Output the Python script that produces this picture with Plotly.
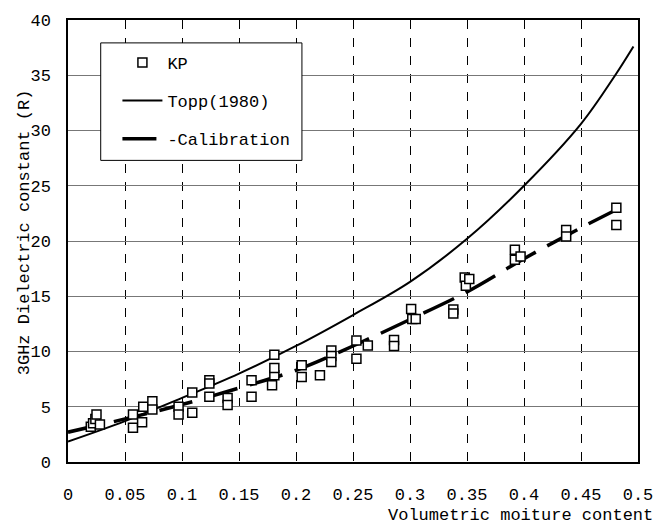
import plotly.graph_objects as go

# ---- data ----
kp_x = [0.020, 0.022, 0.024, 0.025, 0.028,
        0.057, 0.057, 0.065, 0.066, 0.074, 0.074,
        0.097, 0.097, 0.109, 0.109,
        0.124, 0.124, 0.124, 0.140, 0.140,
        0.161, 0.161, 0.179, 0.181, 0.181, 0.181,
        0.205, 0.205, 0.221, 0.231, 0.231, 0.231,
        0.253, 0.253, 0.263, 0.286, 0.286,
        0.301, 0.302, 0.305, 0.338, 0.338,
        0.348, 0.349, 0.352, 0.392, 0.392, 0.397,
        0.437, 0.437, 0.481, 0.481]
kp_y = [3.2, 3.5, 3.9, 4.3, 3.4,
        4.3, 3.1, 3.6, 5.0, 5.5, 4.75,
        5.0, 4.3, 4.45, 6.3,
        7.4, 7.1, 5.9, 5.8, 5.15,
        7.4, 5.9, 6.95, 7.85, 8.5, 9.7,
        8.75, 7.7, 7.85, 10.1, 9.6, 9.05,
        11.0, 9.35, 10.55, 11.05, 10.5,
        13.85, 12.95, 12.95, 13.8, 13.45,
        16.7, 15.95, 16.55, 19.2, 18.3, 18.6,
        21.0, 20.4, 23.0, 21.45]

topp_x = [0.0, 0.05, 0.10, 0.15, 0.20, 0.25, 0.30, 0.35, 0.40, 0.45, 0.48, 0.496]
topp_y = [1.85, 3.7, 5.8, 8.0, 10.5, 13.3, 16.3, 20.2, 25.0, 30.6, 35.0, 37.6]

cal_x = [0.0, 0.05, 0.10, 0.15, 0.20, 0.25, 0.30, 0.35, 0.40, 0.45, 0.49]
cal_y = [2.7, 3.9, 5.2, 6.7, 8.3, 10.5, 12.9, 15.4, 18.4, 21.2, 23.3]

x_ticks = [0, 0.05, 0.1, 0.15, 0.2, 0.25, 0.3, 0.35, 0.4, 0.45, 0.5]
x_ticktext = ["0", "0.05", "0.1", "0.15", "0.2", "0.25", "0.3", "0.35", "0.4", "0.45", "0.5"]
y_ticks = [0, 5, 10, 15, 20, 25, 30, 35, 40]

x_title = "Volumetric moiture content"
y_title = "3GHz Dielectric constant (R)"
names = ["KP", "Topp(1980)", "-Calibration"]

FONT = "Liberation Mono, DejaVu Sans Mono, monospace"

fig = go.Figure()
fig.add_trace(go.Scatter(x=topp_x, y=topp_y, mode="lines", name=names[1],
                         line=dict(color="black", width=2, shape="spline"),
                         legendgroup="b", legendrank=2))
fig.add_trace(go.Scatter(x=cal_x, y=cal_y, mode="lines", name=names[2],
                         line=dict(color="black", width=3.5, shape="spline", dash="34px,13px"),
                         legendgroup="c", legendrank=3))
fig.add_trace(go.Scatter(x=kp_x, y=kp_y, mode="markers", name=names[0],
                         marker=dict(symbol="square", size=9, color="white",
                                     line=dict(color="black", width=1.5)),
                         legendgroup="a", legendrank=1))

# legend box
fig.add_shape(type="rect", xref="paper", yref="paper",
              x0=0.0574, x1=0.4104, y0=0.6824, y1=0.9482,
              fillcolor="white", line=dict(color="black", width=1), layer="above")

fig.add_annotation(text=x_title, xref="paper", yref="paper", x=1.03, y=-0.12,
                   xanchor="right", yanchor="middle", showarrow=False,
                   font=dict(family=FONT, size=17, color="black"))
fig.add_annotation(text=y_title, xref="paper", yref="paper", x=-0.077, y=0.52,
                   xanchor="center", yanchor="middle", textangle=-90, showarrow=False,
                   font=dict(family=FONT, size=17, color="black"))

fig.update_layout(
    width=665, height=530,
    margin=dict(l=68, r=22, t=18, b=68),
    paper_bgcolor="white", plot_bgcolor="white",
    font=dict(family=FONT, size=17, color="black"),
    showlegend=True,
    legend=dict(x=0.0867, y=0.9435, xanchor="left", yanchor="top",
                bgcolor="rgba(0,0,0,0)", borderwidth=0,
                traceorder="grouped", tracegroupgap=13, itemwidth=40,
                font=dict(family=FONT, size=17, color="black")),
    xaxis=dict(range=[0, 0.5], tickvals=x_ticks, ticktext=x_ticktext,
               showgrid=True, gridcolor="black", gridwidth=1, griddash="dash",
               showline=True, mirror=True, linecolor="black", linewidth=2,
               ticks="", zeroline=False, ticklabelstandoff=16,
               tickfont=dict(family=FONT, size=17)),
    yaxis=dict(range=[0, 40], tickvals=y_ticks,
               showgrid=True, gridcolor="#777777", gridwidth=1,
               showline=True, mirror=True, linecolor="black", linewidth=1.5,
               ticks="", zeroline=False, ticklabelstandoff=12,
               tickfont=dict(family=FONT, size=17)),
)

fig.write_html("out.html")
